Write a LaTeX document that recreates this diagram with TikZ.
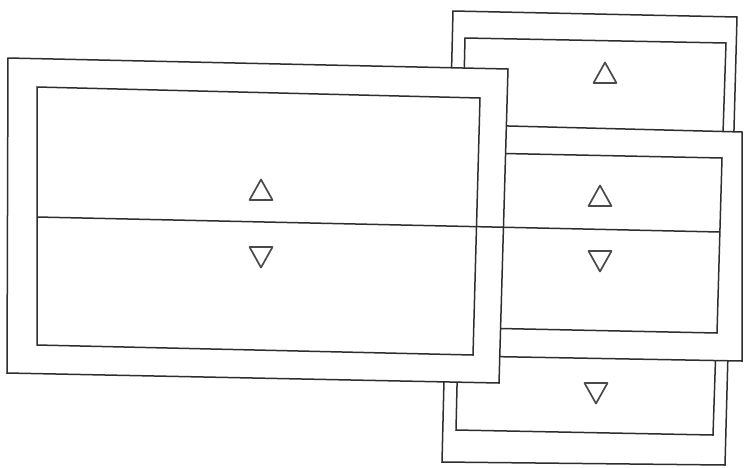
\documentclass[tikz,border=0pt]{standalone}
\usepackage{tikz}
\definecolor{ink}{HTML}{2E2E2E}
\definecolor{tri}{HTML}{4A4A4A}

\begin{document}
\begin{tikzpicture}[
  x=1pt, y=-1pt,
  frame/.style={draw=ink, fill=white, line width=1.5pt, line join=miter},
  inner/.style={draw=ink, line width=1.5pt},
  uptri/.pic={\draw[draw=tri, line width=1.7pt, line join=round] (-11.5,10) -- (11.5,10) -- (0,-10.5) -- cycle;},
  dntri/.pic={\draw[draw=tri, line width=1.7pt, line join=round] (-11.5,-10) -- (11.5,-10) -- (0,10.5) -- cycle;},
]
\useasboundingbox[fill=white] (0,0) rectangle (744,467);
% back panel (tall, right)
\draw[frame] (453,11) -- (737,17) -- (725,465) -- (442,462) -- cycle;
\draw[inner] (465,38) -- (726,43) -- (713,435) -- (456,430) -- cycle;
\pic at (605,73) {uptri};
\pic at (596,393) {dntri};
% middle panel (right)
\draw[frame] (470,125) -- (742,132) -- (742,361) -- (462,356) -- cycle;
\draw[inner] (480,153) -- (722,158) -- (717,333) -- (476,328) -- cycle;
\pic at (600,196) {uptri};
\pic at (600,261) {dntri};
% front panel (left)
\draw[frame] (8,58) -- (508,69) -- (499,383) -- (7,373) -- cycle;
\draw[inner] (37,87) -- (480,98) -- (473,355) -- (37,345) -- cycle;
\pic at (261,190) {uptri};
\pic at (261,257) {dntri};
% divider through both panels
\draw[inner] (37,217) -- (720,232);
\end{tikzpicture}
\end{document}
